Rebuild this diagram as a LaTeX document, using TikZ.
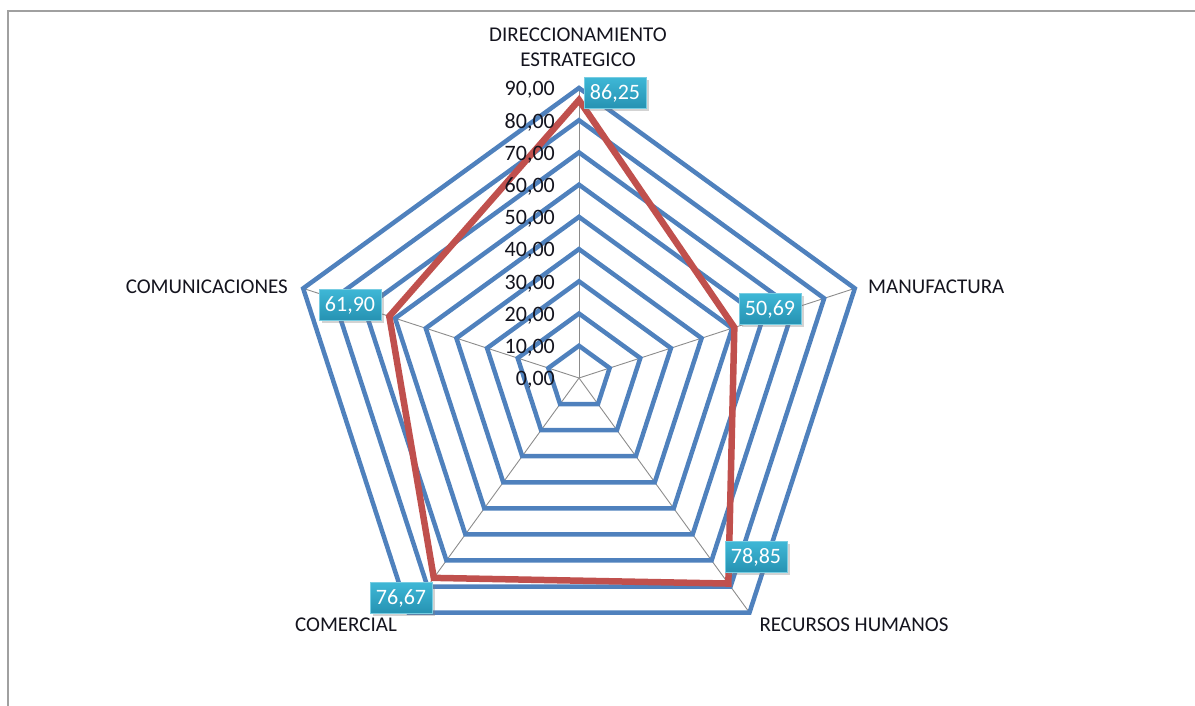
\documentclass[tikz,border=0pt]{standalone}
\usepackage{fontspec}
\setmainfont{Carlito}
\usetikzlibrary{shadows,calc}
\definecolor{ringblue}{RGB}{79,129,189}
\definecolor{datared}{RGB}{192,80,77}
\definecolor{spokegray}{RGB}{140,140,140}
\definecolor{framegray}{RGB}{160,160,160}
\definecolor{tagtop}{RGB}{62,183,214}
\definecolor{tagbottom}{RGB}{38,146,178}
\definecolor{labeltext}{RGB}{20,20,30}

\begin{document}
\begin{tikzpicture}[x=1pt,y=1pt,
  ring/.style={draw=ringblue, line width=4.5pt, line join=miter},
  spoke/.style={draw=spokegray, line width=0.9pt},
  datapoly/.style={draw=datared, line width=6.5pt, line join=miter},
  txt/.style={font=\fontsize{21}{25}\selectfont, text=labeltext, inner sep=0pt},
  ticklabel/.style={font=\fontsize{22}{25}\selectfont, text=labeltext, inner sep=0pt, anchor=east},
  valuetag/.style={font=\fontsize{22}{25}\selectfont, text=white,
    top color=tagtop, bottom color=tagbottom, draw=tagtop!70!white, line width=0.6pt,
    minimum width=62pt, minimum height=31pt, inner sep=0pt,
    drop shadow={shadow xshift=2.5pt, shadow yshift=-2.5pt, opacity=0.35}},
]
\useasboundingbox (0,0) rectangle (1195,-706);

% chart frame (only left and top edges are inside the page)
\draw[framegray, line width=2pt] (8,-706) -- (8,-11) -- (1195,-11);

% centre of the radar chart and its full radius (value 90)
\coordinate (c) at (579,-378);
\def\R{290}
\pgfmathsetmacro\u{\R/90}% length of one unit of value

% axis vertices at the outer ring
\foreach \a [count=\k] in {90,18,-54,-126,162}
  \coordinate (v\k) at ($(c)+(\a:\R)$);

% spokes
\foreach \k in {1,...,5}
  \draw[spoke] (c) -- (v\k);

% grid rings, one per 10 units
\foreach \i in {1,...,9} {
  \pgfmathsetmacro\r{\i*\R/9}
  \draw[ring] ($(c)+(90:\r)$) -- ($(c)+(18:\r)$) -- ($(c)+(-54:\r)$)
    -- ($(c)+(-126:\r)$) -- ($(c)+(162:\r)$) -- cycle;
}

% data series
\coordinate (d1) at ($(c)+(90:{86.25*\u})$);
\coordinate (d2) at ($(c)+(18:{50.69*\u})$);
\coordinate (d3) at ($(c)+(-54:{78.85*\u})$);
\coordinate (d4) at ($(c)+(-126:{76.67*\u})$);
\coordinate (d5) at ($(c)+(162:{61.90*\u})$);
\draw[datapoly] (d1) -- (d2) -- (d3) -- (d4) -- (d5) -- cycle;

% scale labels, set over the lines
\foreach \i in {0,...,9} {
  \pgfmathtruncatemacro\v{\i*10}
  \node[ticklabel] (t\i) at ($(c)+(-24,{\i*\R/9-2})$) {\v,00};
}

% value tags
\node[valuetag] (l1) at (615,-93)  {86,25};
\node[valuetag] (l2) at (770,-309) {50,69};
\node[valuetag] (l3) at (756,-557) {78,85};
\node[valuetag] (l4) at (401,-598) {76,67};
\node[valuetag] (l5) at (350,-305) {61,90};

% category names
\node[txt, align=center] (n1) at (578,-47) {DIRECCIONAMIENTO\\ESTRATEGICO};
\node[txt, anchor=west] (n2) at (868,-287) {MANUFACTURA};
\node[txt] (n3) at (854,-625) {RECURSOS HUMANOS};
\node[txt] (n4) at (346,-625) {COMERCIAL};
\node[txt, anchor=east] (n5) at (288,-287) {COMUNICACIONES};
\end{tikzpicture}
\end{document}
